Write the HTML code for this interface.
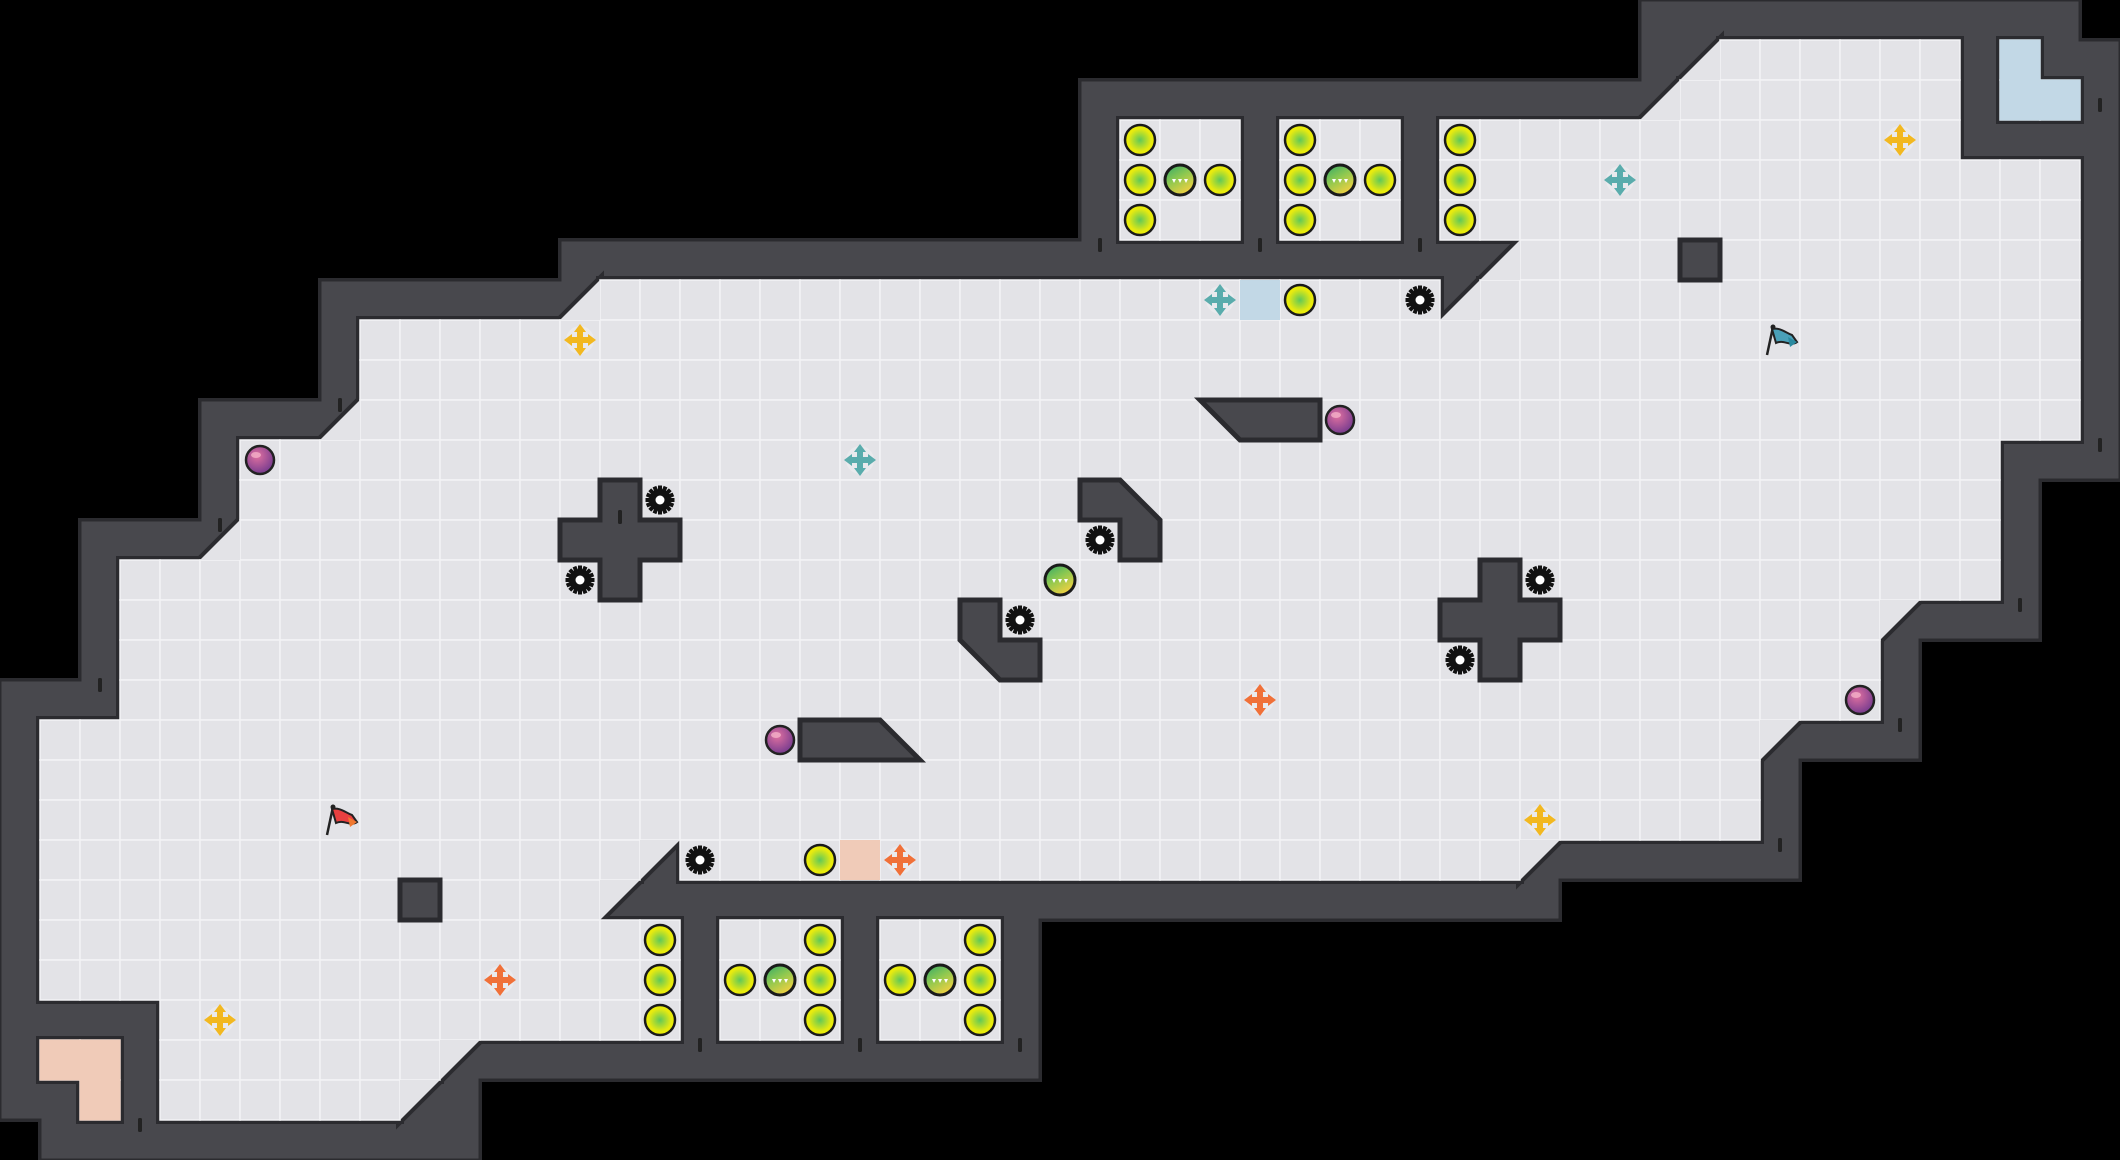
<!DOCTYPE html>
<html><head><meta charset="utf-8"><style>
html,body{margin:0;padding:0;background:#000;width:2120px;height:1160px;overflow:hidden}
svg{display:block}
</style></head><body>
<svg id="s" xmlns="http://www.w3.org/2000/svg" width="2120" height="1160" viewBox="0 0 2120 1160">
<defs>
<radialGradient id="lime" cx="0.5" cy="0.5" r="0.5"><stop offset="0" stop-color="#5fc85a"/><stop offset="0.75" stop-color="#e6ea10"/><stop offset="1" stop-color="#eef000"/></radialGradient>
<linearGradient id="str" x1="0" y1="0" x2="0.6" y2="1"><stop offset="0" stop-color="#2fa86a"/><stop offset="0.5" stop-color="#8cc850"/><stop offset="1" stop-color="#f0d040"/></linearGradient>
<radialGradient id="pb" cx="0.4" cy="0.35" r="0.6"><stop offset="0" stop-color="#e070a0"/><stop offset="1" stop-color="#804090"/></radialGradient>
<g id="L"><circle r="15" fill="url(#lime)" stroke="#1a1a1a" stroke-width="2.5"/></g>
<g id="S"><circle r="15" fill="url(#str)" stroke="#1a1a1a" stroke-width="3"/><path d="M-8,-1 l4,0 l-2,4z M-2,-1 l4,0 l-2,4z M4,-1 l4,0 l-2,4z" fill="#fff"/></g>
<g id="P"><circle r="14" fill="url(#pb)" stroke="#222" stroke-width="2.5"/><ellipse cx="-4" cy="-5" rx="5" ry="3" fill="#f4b0c8" opacity="0.8"/></g>
<g id="G"><circle r="11" fill="#111"/><g fill="#111" id="teeth"></g><circle r="4.5" fill="#fff"/></g>
</defs>
</svg>
<script>
(function(){
var s=document.getElementById('s'),NS='http://www.w3.org/2000/svg',T=40;
function el(n,a,p){var e=document.createElementNS(NS,n);for(var k in a)e.setAttribute(k,a[k]);(p||s).appendChild(e);return e;}
var th=document.getElementById('teeth');
for(var i=0;i<16;i++){el('rect',{x:-2,y:-14.5,width:4,height:5,transform:'rotate('+(i*22.5)+')'},th);}
var F=[],TR=[],COL=[];
function R(r,a,b){for(var c=a;c<=b;c++)F.push([c,r]);}
function Tr(c,r,t){TR.push([c,r,t]);}
function C(c,r,col){F.push([c,r]);COL.push([c,r,col]);}
R(1,43,48);R(2,42,48);
C(50,1,'#c2d8e6');C(50,2,'#c2d8e6');C(51,2,'#c2d8e6');
Tr(42,1,'LR');Tr(41,2,'LR');
R(3,28,30);R(3,32,34);R(3,36,48);
R(4,28,30);R(4,32,34);R(4,36,51);
R(5,28,30);R(5,32,34);R(5,36,51);
R(6,38,51);Tr(37,6,'LR');
R(7,15,35);R(7,37,51);Tr(14,7,'LR');Tr(36,7,'LR');
R(8,9,51);R(9,9,51);
R(10,9,51);Tr(8,10,'LR');
R(11,6,49);R(12,6,49);
R(13,6,49);Tr(5,13,'LR');
R(14,3,49);
R(15,3,46);Tr(47,15,'UL');
R(16,3,46);R(17,3,46);
R(18,1,43);Tr(44,18,'UL');
R(19,1,43);R(20,1,43);
R(21,1,15);R(21,17,37);Tr(16,21,'UL');Tr(38,21,'UL');
R(22,1,14);Tr(15,22,'UL');
R(23,1,16);R(23,18,20);R(23,22,24);
R(24,1,16);R(24,18,20);R(24,22,24);
R(25,4,16);R(25,18,20);R(25,22,24);
C(1,26,'#f0cbb8');C(2,26,'#f0cbb8');C(2,27,'#f0cbb8');
R(26,4,10);Tr(11,26,'UL');
R(27,4,9);Tr(10,27,'UL');
// wall cell set
var W={};
function add(c,r){W[c+','+r]=1;}
F.forEach(function(p){for(var dx=-1;dx<=1;dx++)for(var dy=-1;dy<=1;dy++)add(p[0]+dx,p[1]+dy);});
TR.forEach(function(p){var ex=p[2]=='LR'?[-1,-1]:[1,1];
 for(var dx=-1;dx<=1;dx++)for(var dy=-1;dy<=1;dy++){if(dx==ex[0]&&dy==ex[1])continue;add(p[0]+dx,p[1]+dy);}});
add(11,28);add(41,0);
var keys=Object.keys(W).map(function(k){return k.split(',').map(Number);});
var gW=el('g',{fill:'#2b2b2f'});
keys.forEach(function(p){el('rect',{x:p[0]*T-2,y:p[1]*T-2,width:T+4,height:T+4},gW);});
var gW2=el('g',{fill:'#48484d'});
keys.forEach(function(p){el('rect',{x:p[0]*T+1.5,y:p[1]*T+1.5,width:T-3,height:T-3},gW2);});
// fill seams between adjacent wall cells
keys.forEach(function(p){
 if(W[(p[0]+1)+','+p[1]])el('rect',{x:p[0]*T+1.5,y:p[1]*T+1.5,width:2*T-3,height:T-3},gW2);
 if(W[p[0]+','+(p[1]+1)])el('rect',{x:p[0]*T+1.5,y:p[1]*T+1.5,width:T-3,height:2*T-3},gW2);
 if(W[(p[0]+1)+','+p[1]]&&W[p[0]+','+(p[1]+1)]&&W[(p[0]+1)+','+(p[1]+1)])el('rect',{x:p[0]*T+1.5,y:p[1]*T+1.5,width:2*T-3,height:2*T-3},gW2);
});
var gR=el('g',{fill:'#2b2b2f'});
F.forEach(function(p){el('rect',{x:p[0]*T-4,y:p[1]*T-4,width:T+8,height:T+8},gR);});
function triPts(c,r,t){var x=c*T,y=r*T;
 if(t=='LR')return [[x+T,y],[x+T,y+T],[x,y+T]];
 return [[x,y],[x+T,y],[x,y+T]];}
TR.forEach(function(p){var q=triPts(p[0],p[1],p[2]);el('polygon',{points:q.map(function(v){return v.join(',')}).join(' '),fill:'#2b2b2f',stroke:'#2b2b2f','stroke-width':8,'stroke-linejoin':'miter'});});
var gF=el('g',{});
F.forEach(function(p){el('rect',{x:p[0]*T,y:p[1]*T,width:T,height:T,fill:'#e3e3e7',stroke:'#f3f3f5','stroke-width':1.5},gF);});
TR.forEach(function(p){var q=triPts(p[0],p[1],p[2]);el('polygon',{points:q.map(function(v){return v.join(',')}).join(' '),fill:'#e3e3e7'},gF);});
COL.forEach(function(p){el('rect',{x:p[0]*T,y:p[1]*T,width:T,height:T,fill:p[2],stroke:p[2],'stroke-width':1},gF);});
[[31,7,'#c2d8e6'],[21,21,'#f0cbb8']].forEach(function(p){el('rect',{x:p[0]*T,y:p[1]*T,width:T,height:T,fill:p[2]});});
function poly(pts){el('polygon',{points:pts.map(function(v){return (v[0]*T)+','+(v[1]*T)}).join(' '),fill:'#48484d',stroke:'#2b2b2f','stroke-width':5,'stroke-linejoin':'miter'});}
poly([[15,12],[16,12],[16,13],[17,13],[17,14],[16,14],[16,15],[15,15],[15,14],[14,14],[14,13],[15,13]]);
poly([[37,14],[38,14],[38,15],[39,15],[39,16],[38,16],[38,17],[37,17],[37,16],[36,16],[36,15],[37,15]]);
poly([[27,12],[28,12],[29,13],[29,14],[28,14],[28,13],[27,13]]);
poly([[24,15],[25,15],[25,16],[26,16],[26,17],[25,17],[24,16]]);
poly([[20,18],[22,18],[23,19],[20,19]]);
poly([[30,10],[33,10],[33,11],[31,11]]);
poly([[42,6],[43,6],[43,7],[42,7]]);
poly([[10,22],[11,22],[11,23],[10,23]]);
var ticks=[[27.5,6.1],[31.5,6.1],[35.5,6.1],[17.5,26.1],[21.5,26.1],[25.5,26.1],[2.5,17.1],[8.5,10.1],[5.5,13.1],[52.5,11.1],[50.5,15.1],[47.5,18.1],[44.5,21.1],[3.5,28.1],[15.5,12.9],[52.5,2.6]];
ticks.forEach(function(t){el('rect',{x:t[0]*T-2,y:t[1]*T-6,width:4,height:14,rx:1.5,fill:'#222'});});
function use(id,c,r){el('use',{href:'#'+id,transform:'translate('+(c*T+20)+','+(r*T+20)+')'});}
[[28,3],[28,4],[30,4],[28,5],[32,3],[32,4],[34,4],[32,5],[36,3],[36,4],[36,5],[32,7],[20,21],[16,23],[16,24],[16,25],[20,23],[18,24],[20,24],[20,25],[24,23],[22,24],[24,24],[24,25]].forEach(function(p){use('L',p[0],p[1]);});
[[29,4],[33,4],[26,14],[19,24],[23,24]].forEach(function(p){use('S',p[0],p[1]);});
[[6,11],[33,10],[46,17],[19,18]].forEach(function(p){use('P',p[0],p[1]);});
[[35,7],[16,12],[14,14],[27,13],[25,15],[38,14],[36,16],[17,21]].forEach(function(p){use('G',p[0],p[1]);});
function cross(c,r,col){var g=el('g',{transform:'translate('+(c*T+20)+','+(r*T+20)+')'});
 el('circle',{r:14,fill:'#ececef',opacity:0.7},g);
 el('path',{d:'M-3,-9 L3,-9 L3,-3 L9,-3 L9,3 L3,3 L3,9 L-3,9 L-3,3 L-9,3 L-9,-3 L-3,-3Z',fill:col},g);
 el('path',{d:'M0,-16 L6,-8 L-6,-8Z M0,16 L6,8 L-6,8Z M-16,0 L-8,6 L-8,-6Z M16,0 L8,6 L8,-6Z',fill:col},g);}
cross(47,3,'#f2b820');cross(40,4,'#5aacac');cross(30,7,'#5aacac');cross(14,8,'#f2b820');cross(21,11,'#5aacac');
cross(31,17,'#f07038');cross(38,20,'#f2b820');cross(22,21,'#f07038');cross(12,24,'#f07038');cross(5,25,'#f2b820');
function flag(c,r,col,col2){var g=el('g',{transform:'translate('+(c*T+20)+','+(r*T+20)+')'});
 el('line',{x1:-13,y1:15,x2:-7,y2:-13,stroke:'#222','stroke-width':2.5},g);
 el('path',{d:'M-8,-11 C0,-13 6,-7 12,-5 L17,2 C10,7 4,-1 -4,3 Z',fill:col,stroke:'#222','stroke-width':2},g);
 el('path',{d:'M8,-3 L17,2 L10,7 Z',fill:col2},g);
 el('circle',{cx:-7,cy:-13,r:2.5,fill:'#222'},g);}
flag(8,20,'#e84040','#f07830');flag(44,8,'#4aa0b8','#2a8aa0');
})();
</script>
</body></html>
